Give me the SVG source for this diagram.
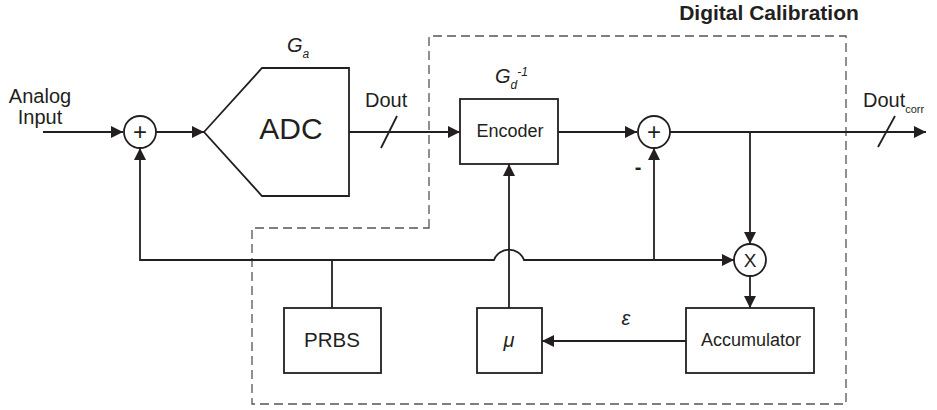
<svg xmlns="http://www.w3.org/2000/svg" width="937" height="410" viewBox="0 0 937 410">
<style>
.ln{fill:none;stroke:#231f20;stroke-width:1.8}
.bx{fill:#fff;stroke:#231f20;stroke-width:1.8}
.ds{fill:none;stroke:#555;stroke-width:1.3;stroke-dasharray:9,5}
text{font-family:"Liberation Sans",Arial,sans-serif;fill:#231f20}
.it{font-style:italic}
.c{text-anchor:middle}
</style>
<defs>
<marker id="ah" viewBox="0 0 12 12" refX="12" refY="6" markerWidth="12" markerHeight="12" markerUnits="userSpaceOnUse" orient="auto">
<path d="M0,0 L12,6 L0,12 z" fill="#231f20"/>
</marker>
</defs>
<rect width="937" height="410" fill="#fff"/>
<g id="calib-region">
<path class="ds" d="M429,228 V36 H846 V404 H252 V228 Z"/>
<text x="769" y="20" class="c" font-size="21" font-weight="bold">Digital Calibration</text>
</g>
<g id="connectors">
<path class="ln" d="M43,132 H123" marker-end="url(#ah)"/>
<path class="ln" d="M156,132 H204" marker-end="url(#ah)"/>
<path class="ln" d="M349,132 H460" marker-end="url(#ah)"/>
<path class="ln" d="M558,132 H637" marker-end="url(#ah)"/>
<path class="ln" d="M670,132 H926" marker-end="url(#ah)"/>
<path class="ln" d="M750,132 V244" marker-end="url(#ah)"/>
<path class="ln" d="M750,276 V308" marker-end="url(#ah)"/>
<path class="ln" d="M686,341 H542" marker-end="url(#ah)"/>
<path class="ln" d="M509,308 V164" marker-end="url(#ah)"/>
<path class="ln" d="M332,260 H140 V148" marker-end="url(#ah)"/>
<path class="ln" d="M332,260 H494 A16,16 0 0 1 524,260 H734" marker-end="url(#ah)"/>
<path class="ln" d="M332,308 V260"/>
<path class="ln" d="M654,260 V148" marker-end="url(#ah)"/>
<path class="ln" d="M381,148 L397,116"/>
<path class="ln" d="M878,147 L895,116"/>
<text x="40" y="103" class="c" font-size="20">Analog</text>
<text x="40" y="124" class="c" font-size="20">Input</text>
<text x="365" y="107" font-size="20">Dout</text>
<text x="863" y="107" font-size="20">Dout<tspan font-size="11" dy="6">corr</tspan></text>
<text x="626" y="325" class="c it" font-size="20">ε</text>
<text x="638" y="174" class="c" font-size="20" font-weight="bold">-</text>
</g>
<g id="sum1">
<circle class="bx" cx="140" cy="132" r="16"/>
<text x="140" y="140" class="c" font-size="24">+</text>
</g>
<g id="adc">
<path class="bx" d="M204,132 L262,68 H349 V196 H262 Z"/>
<text x="291" y="139" class="c" font-size="30">ADC</text>
<text x="287" y="52" class="it" font-size="20">G<tspan font-size="12" dy="6">a</tspan></text>
</g>
<g id="encoder">
<rect class="bx" x="460" y="99" width="98" height="65"/>
<text x="510" y="137" class="c" font-size="18">Encoder</text>
<text x="495" y="83" class="it" font-size="20">G<tspan font-size="12" dy="6">d</tspan><tspan font-size="12" dx="0" dy="-13">-1</tspan></text>
</g>
<g id="sum2">
<circle class="bx" cx="654" cy="132" r="16"/>
<text x="654" y="140" class="c" font-size="24">+</text>
</g>
<g id="mult">
<circle class="bx" cx="750" cy="260" r="16"/>
<text x="750" y="267" class="c" font-size="19">X</text>
</g>
<g id="prbs">
<rect class="bx" x="284" y="308" width="97" height="65"/>
<text x="332" y="347" class="c" font-size="20.5">PRBS</text>
</g>
<g id="mu">
<rect class="bx" x="477" y="308" width="65" height="65"/>
<text x="509" y="347" class="c it" font-size="20">μ</text>
</g>
<g id="accumulator">
<rect class="bx" x="686" y="308" width="128" height="65"/>
<text x="751" y="346" class="c" font-size="18">Accumulator</text>
</g>
</svg>
